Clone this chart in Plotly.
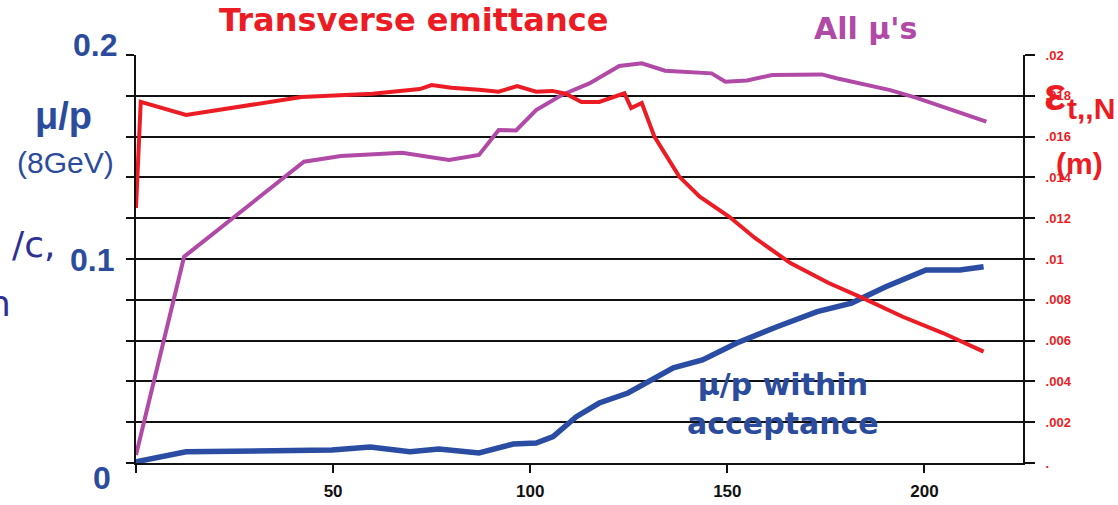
import plotly.graph_objects as go

RED = "#ec1c24"
PURPLE = "#b14aa6"
BLUE = "#2a4ca3"
LABEL_BLUE = "#2b4c9c"
DARK_BLUE = "#2e3192"

# transverse emittance (right axis, m)
emit_x = [0, 1.2, 12.7, 42, 60, 72, 75, 80, 87, 92, 96.7, 101.5, 105.6, 109,
          113, 117.5, 123.9, 125.6, 128.3, 131.5, 137.8, 143, 150.5, 157,
          166, 175.7, 184.4, 194.5, 204.7, 215]
emit_y = [0.0125, 0.0177, 0.01706, 0.01794, 0.0181, 0.01833, 0.01853, 0.0184,
          0.0183, 0.0182, 0.01848, 0.0182, 0.01824, 0.0181, 0.0177, 0.0177,
          0.01812, 0.0174, 0.01765, 0.016, 0.01404, 0.01306, 0.01207, 0.01103,
          0.0098, 0.00882, 0.00808, 0.00717, 0.00637, 0.00546]

# all muons per proton (left axis)
all_x = [0, 12.2, 42.6, 52, 67.5, 79.4, 87, 92, 96.4, 101.5, 108, 115, 122.6,
         128.3, 134.2, 140, 146, 149.5, 155, 161.4, 174, 177.7, 185, 191.3,
         198, 204.8, 215.7]
all_y = [0.0039, 0.1011, 0.1477, 0.1505, 0.1521, 0.1485, 0.151, 0.1632, 0.163,
         0.173, 0.1804, 0.1861, 0.1946, 0.1959, 0.1923, 0.1915, 0.191, 0.1869,
         0.1875, 0.1902, 0.1905, 0.1886, 0.1855, 0.1828, 0.179, 0.1747, 0.1673]

# muons per proton within acceptance (left axis)
acc_x = [0, 12.7, 49.7, 59.4, 69.5, 76.8, 87, 95.7, 101.5, 105.8, 111.7,
         117.5, 124.8, 129.2, 136.3, 143.7, 152.4, 162.6, 172.8, 181.5,
         190.2, 200.4, 209, 215]
acc_y = [0.0006, 0.0055, 0.0064, 0.0078, 0.0055, 0.0069, 0.0049, 0.0093,
         0.0098, 0.0129, 0.0227, 0.0294, 0.0343, 0.0392, 0.0466, 0.0505,
         0.0588, 0.0668, 0.0742, 0.0784, 0.0864, 0.0946, 0.0946, 0.0962]

left_ticks = [0, 0.02, 0.04, 0.06, 0.08, 0.1, 0.12, 0.14, 0.16, 0.18, 0.2]
right_ticks = [0, 0.002, 0.004, 0.006, 0.008, 0.01, 0.012, 0.014, 0.016, 0.018, 0.02]
right_labels = [".", ".002", ".004", ".006", ".008", ".01", ".012", ".014",
                ".016", ".018", ".02"]
x_ticks = [0, 50, 100, 150, 200]
x_labels = ["", "50", "100", "150", "200"]

fig = go.Figure()

fig.add_trace(go.Scatter(
    x=all_x, y=all_y, mode="lines",
    line=dict(color=PURPLE, width=4),
    yaxis="y"
))

fig.add_trace(go.Scatter(
    x=acc_x, y=acc_y, mode="lines",
    line=dict(color=BLUE, width=5.5),
    yaxis="y"
))

fig.add_trace(go.Scatter(
    x=emit_x, y=emit_y, mode="lines",
    line=dict(color=RED, width=4),
    yaxis="y2"
))

COMIC = "DejaVu Sans, sans-serif"
ARIAL = "Liberation Sans, Arial, sans-serif"

annotations = [
    dict(text="<b>Transverse emittance</b>", xref="paper", yref="paper",
         x=0.313, y=1.085, font=dict(family=COMIC, size=32, color=RED)),
    dict(text="<b>All μ's</b>", xref="paper", yref="paper",
         x=0.822, y=1.065, font=dict(family=COMIC, size=30, color=PURPLE)),
    dict(text="<b>μ/p within<br>acceptance</b>", x=164, y=0.029, xref="x", yref="y",
         font=dict(family=COMIC, size=30, color=LABEL_BLUE)),
    # left axis labels
    dict(text="<b>0.2</b>", xref="paper", yref="paper", x=-0.046, y=1.025,
         font=dict(family=ARIAL, size=32, color=LABEL_BLUE)),
    dict(text="<b>0.1</b>", xref="paper", yref="paper", x=-0.0496, y=0.498,
         font=dict(family=ARIAL, size=32, color=LABEL_BLUE)),
    dict(text="<b>0</b>", xref="paper", yref="paper", x=-0.038, y=-0.037,
         font=dict(family=ARIAL, size=32, color=LABEL_BLUE)),
    dict(text="<b>μ/p</b>", xref="paper", yref="paper", x=-0.082, y=0.85,
         font=dict(family=ARIAL, size=38, color=LABEL_BLUE)),
    dict(text="(8GeV)", xref="paper", yref="paper", x=-0.079, y=0.737,
         font=dict(family=ARIAL, size=30, color=LABEL_BLUE)),
    dict(text="/c,", xref="paper", yref="paper", x=-0.089, y=0.535,
         xanchor="right", font=dict(family=COMIC, size=36, color=DARK_BLUE)),
    dict(text="n", xref="paper", yref="paper", x=-0.139, y=0.39,
         xanchor="right", font=dict(family=COMIC, size=36, color=DARK_BLUE)),
    # right axis title
    dict(text="<b>ε</b>", xref="paper", yref="paper", x=1.036, y=0.905,
         font=dict(family=ARIAL, size=46, color=RED)),
    dict(text="<b>t,,N</b>", xref="paper", yref="paper", x=1.077, y=0.87,
         font=dict(family=ARIAL, size=30, color=RED)),
    dict(text="<b>(m)</b>", xref="paper", yref="paper", x=1.064, y=0.733,
         font=dict(family=ARIAL, size=30, color=RED)),
]
for a in annotations:
    a.setdefault("xanchor", "center")
    a.setdefault("yanchor", "middle")
    a["showarrow"] = False

fig.update_layout(
    width=1118,
    height=505,
    paper_bgcolor="white",
    plot_bgcolor="white",
    showlegend=False,
    margin=dict(l=136, r=95, t=55, b=42),
    annotations=annotations,
    xaxis=dict(
        range=[0, 225],
        tickvals=x_ticks,
        ticktext=x_labels,
        ticks="outside",
        ticklen=8,
        tickwidth=2,
        tickcolor="#111",
        showgrid=False,
        zeroline=False,
        showline=True,
        linecolor="#111",
        linewidth=2,
        automargin=False,
        ticklabelstandoff=4,
        tickfont=dict(family="Liberation Sans Narrow, Liberation Sans, Arial",
                      size=17, color="#111", weight="bold"),
    ),
    yaxis=dict(
        range=[0, 0.2],
        tickvals=left_ticks,
        showticklabels=False,
        ticks="outside",
        ticklen=8,
        tickwidth=2,
        tickcolor="#111",
        showgrid=True,
        gridcolor="#111",
        gridwidth=2,
        zeroline=False,
        showline=True,
        linecolor="#111",
        linewidth=2,
        automargin=False,
    ),
    yaxis2=dict(
        range=[0, 0.02],
        overlaying="y",
        side="right",
        tickvals=right_ticks,
        ticktext=right_labels,
        ticks="outside",
        ticklen=10,
        tickwidth=2,
        tickcolor="#111",
        showgrid=False,
        zeroline=False,
        showline=True,
        linecolor="#111",
        linewidth=2,
        automargin=False,
        ticklabelstandoff=8,
        tickfont=dict(family=ARIAL, size=13, color=RED, weight="bold"),
    ),
)

fig.write_html(
    "out.html",
    config={"displayModeBar": False},
    post_script="document.body.style.margin='0';"
)
